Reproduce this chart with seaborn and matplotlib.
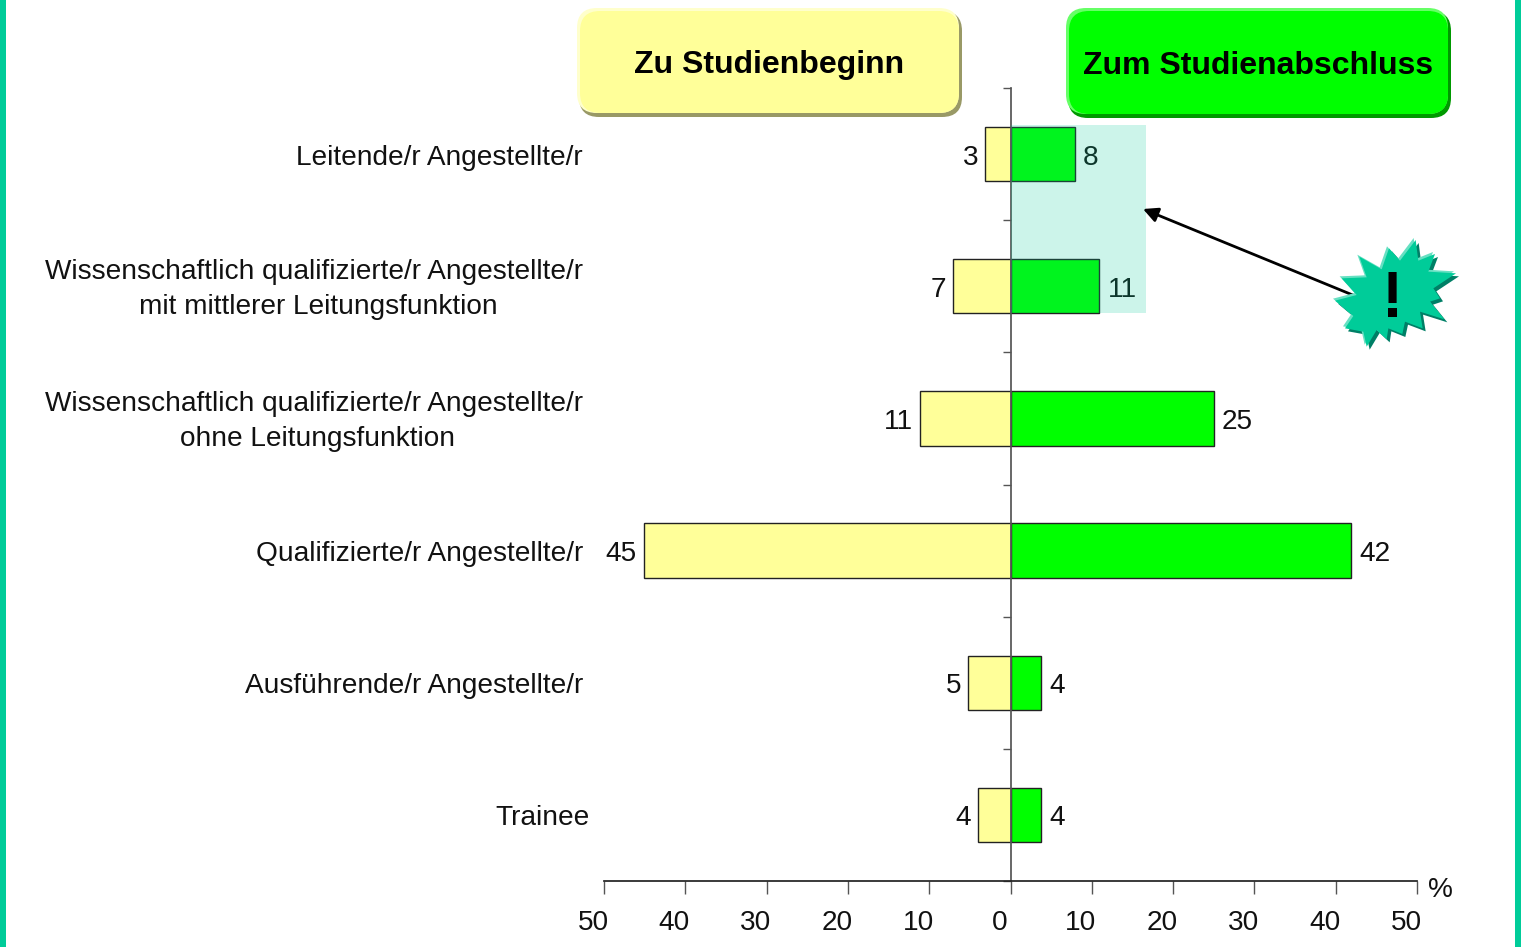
import numpy as np
import pandas as pd
import matplotlib
matplotlib.use("Agg")
import matplotlib.pyplot as plt
from matplotlib.patches import FancyBboxPatch, Polygon, Rectangle
from matplotlib.transforms import ScaledTranslation
import seaborn as sns

categorias = ["Leitende/r Angestellte/r",
              "Wissenschaftlich qualifizierte/r Angestellte/r\nmit mittlerer Leitungsfunktion",
              "Wissenschaftlich qualifizierte/r Angestellte/r\nohne Leitungsfunktion",
              "Qualifizierte/r Angestellte/r",
              "Ausführende/r Angestellte/r",
              "Trainee"]
beginn = [3.1, 7.1, 11.1, 45.1, 5.2, 4.0]
abschluss = [7.9, 10.9, 25.0, 41.9, 3.8, 3.8]
beginn_label = [3, 7, 11, 45, 5, 4]
abschluss_label = [8, 11, 25, 42, 4, 4]
x_ticks = [-50, -40, -30, -20, -10, 0, 10, 20, 30, 40, 50]
x_labels = ["50", "40", "30", "20", "10", "0", "10", "20", "30", "40", "50"]

W, H = 1521, 947
GELB = "#FFFF99"
GRUEN = "#00FF00"
TEAL = "#00CC99"

sns.set_theme(style="white")
plt.rcParams["font.family"] = ["Liberation Sans", "DejaVu Sans"]

df = pd.DataFrame({"kat": categorias, "beginn": [-v for v in beginn], "abschluss": abschluss})

fig = plt.figure(figsize=(W / 100, H / 100), dpi=100, facecolor="white")
ax = fig.add_axes([604 / W, 1 - 881 / H, (1417 - 604) / W, (881 - 88) / H])
ax.patch.set_alpha(0)

sns.barplot(data=df, x="beginn", y="kat", color=GELB, saturation=1, width=0.41,
            edgecolor="#222222", linewidth=1, ax=ax)
sns.barplot(data=df, x="abschluss", y="kat", color=GRUEN, saturation=1, width=0.41,
            edgecolor="#222222", linewidth=1, ax=ax)
ax.set_xlim(-50, 50)
ax.set_ylim(5.5, -0.5)
ax.set_xlabel("")
ax.set_ylabel("")

# achsen
for s in ["top", "right"]:
    ax.spines[s].set_visible(False)
ax.spines["left"].set_position(("data", 0))
ax.spines["left"].set_color("#555555")
ax.spines["bottom"].set_color("#222222")
ax.set_yticks(np.arange(-0.5, 5.6, 1))
ax.set_yticklabels([])
ax.set_xticks(x_ticks)
ax.set_xticklabels(x_labels, fontsize=20.2, color="#111111")
ax.tick_params(axis="y", left=True, length=6, width=1, color="#555555")
ax.tick_params(axis="x", bottom=True, length=9, width=1, color="#555555", pad=12)
versatz = ScaledTranslation(-11 / 100, 0, fig.dpi_scale_trans)
for t in ax.get_xticklabels():
    t.set_transform(t.get_transform() + versatz)

# beschriftung
tr = ax.get_yaxis_transform()
for i, kat in enumerate(categorias):
    xpos = 590 if kat == "Trainee" else 583
    if "\n" in kat:
        zeile1, zeile2 = kat.split("\n")
        ax.text((xpos - 604) / 813, i - 0.11, zeile1, transform=tr, ha="right", va="center",
                fontsize=20.2, color="#111111", clip_on=False)
        ax.text((318 - 604) / 813, i + 0.155, zeile2, transform=tr, ha="center", va="center",
                fontsize=20.2, color="#111111", clip_on=False)
    else:
        ax.text((xpos - 604) / 813, i + 0.027, kat, transform=tr, ha="right", va="center",
                fontsize=20.2, color="#111111", clip_on=False)
    ax.annotate(str(beginn_label[i]), (-beginn[i], i), xytext=(-5, -2.5), textcoords="offset points",
                ha="right", va="center", fontsize=20.2, color="#111111")
    ax.annotate(str(abschluss_label[i]), (abschluss[i], i), xytext=(6, -2.5), textcoords="offset points",
                ha="left", va="center", fontsize=20.2, color="#111111")

ax.text(1440 / W, 1 - 890 / H, "%", transform=fig.transFigure, ha="center", va="center",
        fontsize=20.2, color="#111111")

# overlay in pixeln
ov = fig.add_axes([0, 0, 1, 1], zorder=5)
ov.set_xlim(0, W)
ov.set_ylim(H, 0)
ov.axis("off")

ov.add_patch(Rectangle((0, 0), 6, H, color=TEAL, lw=0))
ov.add_patch(Rectangle((1515, 0), 6, H, color=TEAL, lw=0))
ov.add_patch(Rectangle((1011, 125), 135, 188, facecolor=TEAL, alpha=0.2, lw=0))


def badge(x0, y0, x1, y1, farbe, hell, dunkel, text):
    r = 20
    ov.add_patch(FancyBboxPatch((x0 + r + 2, y0 + r + 3), x1 - x0 - 2 * r - 2, y1 - y0 - 2 * r - 3,
                                boxstyle=f"round,pad={r},rounding_size={r}", fc=dunkel, lw=0))
    ov.add_patch(FancyBboxPatch((x0 + r, y0 + r), x1 - x0 - 2 * r - 3, y1 - y0 - 2 * r - 4,
                                boxstyle=f"round,pad={r},rounding_size={r}", fc=hell, lw=0))
    ov.add_patch(FancyBboxPatch((x0 + r + 3, y0 + r + 3), x1 - x0 - 2 * r - 6, y1 - y0 - 2 * r - 7,
                                boxstyle=f"round,pad={r},rounding_size={r}", fc=farbe, lw=0))
    ov.text((x0 + x1) / 2 - 0.5, (y0 + y1) / 2 + 2.5, text, ha="center", va="center", fontsize=23,
            fontweight="bold", color="black")


badge(577, 8, 962, 117, GELB, "#FFFFCC", "#999966", "Zu Studienbeginn")
badge(1066, 8, 1451, 118, GRUEN, "#66FF66", "#009900", "Zum Studienabschluss")

# pfeil und stern
ov.annotate("", xy=(1143, 209), xytext=(1360, 298), zorder=2,
            arrowprops=dict(arrowstyle="-|>", color="black", lw=2, mutation_scale=22,
                            shrinkA=0, shrinkB=0))
stern = np.array([(272, 30), (280, 92), (330, 72), (310, 125), (393, 130), (325, 175),
                  (345, 205), (315, 215), (358, 268), (285, 245), (293, 295), (240, 275),
                  (232, 312), (190, 295), (185, 328), (155, 300), (125, 350), (115, 305),
                  (60, 295), (85, 258), (30, 212), (95, 195), (50, 145), (125, 142),
                  (103, 80), (170, 118), (192, 55), (225, 92)], dtype=float) / 3 + [1325, 230]
ov.add_patch(Polygon(stern + [3, 3], fc="#007F66", lw=0, zorder=3))
ov.add_patch(Polygon(stern + [-2, -2], fc="#66E0C2", lw=0, zorder=3))
ov.add_patch(Polygon(stern, fc=TEAL, lw=0, zorder=4))
ov.text(1393, 300, "!", ha="center", va="center", fontsize=46, fontweight="bold", color="black", zorder=5)

fig.savefig("out.png", dpi=100)
